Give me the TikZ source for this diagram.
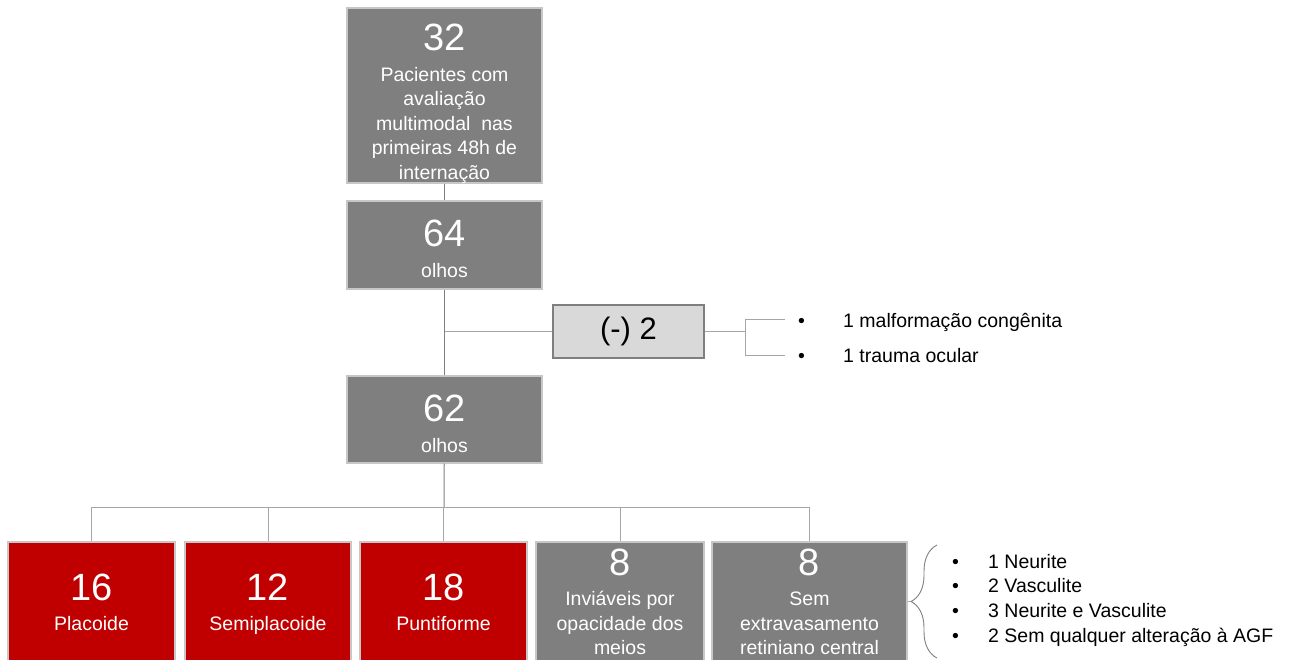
\documentclass[tikz,border=0pt]{standalone}
\usepackage{fontspec}
\setmainfont{Liberation Sans}
\usetikzlibrary{decorations.pathreplacing}
\definecolor{boxgray}{HTML}{7F7F7F}
\definecolor{boxred}{HTML}{C00000}
\definecolor{minusfill}{HTML}{D9D9D9}
\definecolor{linegray}{HTML}{A6A6A6}
\newcommand{\numf}{\fontsize{38}{40}\selectfont}
\newcommand{\txtf}{\fontsize{19.5}{24.5}\selectfont}
\begin{document}
\begin{tikzpicture}[x=1pt, y=-1pt, box/.style={draw=black!22, line width=1.2pt, fill=boxgray, text=white, align=center, inner sep=0pt, font=\txtf}, redbox/.style={box, fill=boxred}, minusbox/.style={draw=boxgray, line width=1.2pt, fill=minusfill, minimum width=151pt, minimum height=53pt, inner sep=0pt, font=\fontsize{31}{32}\selectfont}, trunk/.style={draw=boxgray, line width=1pt}, branch/.style={draw=linegray, line width=1pt}, item/.style={anchor=base west, inner sep=0pt, font=\txtf}]
\useasboundingbox (0,0) rectangle (1292,659);
\clip (0,0) rectangle (1292,659);
% main column
\node[box, minimum width=195pt, text height=171pt, text depth=4pt] (n32) at (444.5,95.5) {{\numf 32}\\[6pt]Pacientes com\\avaliação\\multimodal~ nas\\primeiras 48h de\\internação};
\node[box, minimum width=195pt, text height=76pt, text depth=12pt] (n64) at (444.5,245) {{\numf 64}\\[6pt]olhos};
\node[box, minimum width=195pt, text height=76pt, text depth=11pt] (n62) at (444.5,419.5) {{\numf 62}\\[6pt]olhos};
\draw[trunk] (n32) -- (n64);
\draw[trunk] (n64) -- (n62);
% excluded eyes
\node[minusbox] (nmenos) at (628.5,331.5) {(-) 2};
\draw[branch] (n64.south |- nmenos) -- (nmenos.west);
\coordinate (jr) at (745,331.5);
\coordinate (b1) at (785,319);
\coordinate (b2) at (785,355);
\draw[branch] (nmenos.east) -- (jr);
\draw[branch] (b1) -| (jr) |- (b2);
\node[item] (m1) at (798,327) {\makebox[45pt][l]{\textbullet}1 malformação congênita};
\node[item] (m2) at (798,362) {\makebox[45pt][l]{\textbullet}1 trauma ocular};
% bottom row
\node[redbox, minimum width=167pt, text height=88.5pt, text depth=37.5pt] (n16) at (91.5,605) {{\numf 16}\\[6pt]Placoide};
\node[redbox, minimum width=166pt, text height=88.5pt, text depth=37.5pt] (n12) at (268,605) {{\numf 12}\\[6pt]Semiplacoide};
\node[redbox, minimum width=167pt, text height=88.5pt, text depth=37.5pt] (n18) at (443.5,605) {{\numf 18}\\[6pt]Puntiforme};
\node[box, minimum width=168pt, text height=112.5pt, text depth=13.5pt] (n8a) at (620,605) {{\numf 8}\\[6pt]Inviáveis por\\opacidade dos\\meios};
\node[box, minimum width=195pt, text height=112.5pt, text depth=13.5pt] (n8b) at (809.5,605) {{\numf 8}\\[6pt]Sem\\extravasamento\\retiniano central};
\coordinate (hb) at (444,507);
\draw[trunk] (n62) -- (hb);
\draw[branch] (n16.north) |- (n8b.north |- hb) -- (n8b.north);
\foreach \n in {n12,n18,n8a} \draw[branch] (\n.north) -- (\n.north |- hb);
% brace and findings
\coordinate (ba) at (937,658);
\coordinate (bb) at (937,545);
\coordinate (tip) at (911,601.5);
\draw[boxgray, line width=0.9pt, decorate, decoration={brace, amplitude=26pt}] (ba) -- (bb);
\draw[branch] (n8b.east |- tip) -- (tip);
\foreach \t [count=\i] in {1 Neurite, 2 Vasculite, 3 Neurite e Vasculite, 2 Sem qualquer alteração à AGF}
  \node[item] (r\i) at (952,543.5+24.7*\i) {\makebox[36pt][l]{\textbullet}\t};
\end{tikzpicture}
\end{document}
